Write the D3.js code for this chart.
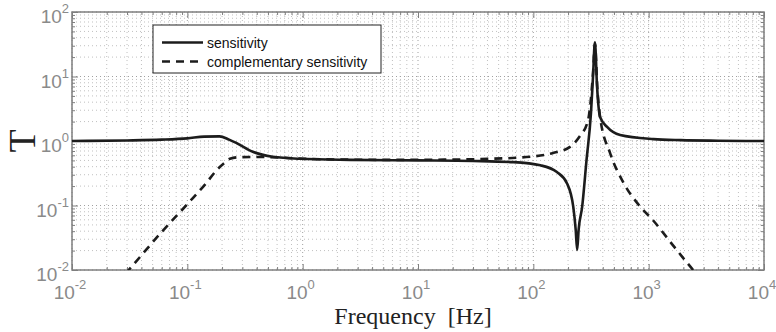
<!DOCTYPE html>
<html>
<head>
<meta charset="utf-8">
<script src="https://cdn.jsdelivr.net/npm/d3@7"></script>
<style>
  body { margin: 0; background: #fff; }
  svg { display: block; }
</style>
</head>
<body>
<svg id="chart"></svg>
<script>
// frequency [Hz] / magnitude
const sensFreq = [0.01, 0.03, 0.06, 0.1, 0.14, 0.19, 0.23, 0.27, 0.37, 0.55, 0.95, 2.6, 10, 30, 67, 115, 160, 196, 222, 233, 240, 247, 265, 289, 316, 329, 342, 357, 379, 436, 566, 1100, 1900, 4000, 10000];
const sensVals = [1.0, 1.02, 1.05, 1.1, 1.17, 1.18, 1.05, 0.92, 0.68, 0.57, 0.53, 0.51, 0.5, 0.49, 0.47, 0.42, 0.33, 0.22, 0.095, 0.042, 0.0205, 0.042, 0.095, 0.5, 2.7, 9.8, 34, 6.9, 2.36, 1.65, 1.24, 1.07, 1.03, 1.01, 1.0];
const compFreq = [0.02, 0.031, 0.06, 0.1, 0.145, 0.18, 0.21, 0.234, 0.28, 0.4, 0.7, 1, 5, 20, 35, 94, 148, 208, 250, 298, 330, 342, 360, 379, 463, 601, 828, 1100, 1660, 2430, 3500];
const compVals = [0.0042, 0.01, 0.039, 0.105, 0.22, 0.355, 0.46, 0.53, 0.56, 0.565, 0.55, 0.53, 0.51, 0.515, 0.525, 0.57, 0.65, 0.81, 1.15, 2.1, 12, 32, 6, 2.36, 0.65, 0.23, 0.1, 0.058, 0.023, 0.01, 0.0048];
const xDecades = [-2, -1, 0, 1, 2, 3, 4];
const yDecades = [-2, -1, 0, 1, 2];
const legendLabels = ["sensitivity", "complementary sensitivity"];

const width = 776, height = 332;
const margin = {left: 72, right: 12, top: 12, bottom: 62};
const svg = d3.select("#chart").attr("width", width).attr("height", height);

const x = d3.scaleLog().domain([1e-2, 1e4]).range([margin.left, width - margin.right]);
const y = d3.scaleLog().domain([1e-2, 1e2]).range([height - margin.bottom, margin.top]);
const x0 = margin.left, x1 = width - margin.right, y0 = height - margin.bottom, y1 = margin.top;

// minor values per decade
const minorX = [], minorY = [];
for (let d = -2; d < 4; d++) for (let k = 2; k <= 9; k++) minorX.push(k * Math.pow(10, d));
for (let d = -2; d < 2; d++) for (let k = 2; k <= 9; k++) minorY.push(k * Math.pow(10, d));
const majorX = xDecades.map(d => Math.pow(10, d));
const majorY = yDecades.map(d => Math.pow(10, d));

// grid
const grid = svg.append("g");
grid.selectAll(".gmx").data(minorX).join("line")
    .attr("x1", d => x(d)).attr("x2", d => x(d)).attr("y1", y1).attr("y2", y0)
    .attr("stroke", "#c0c0c0").attr("stroke-width", 1).attr("stroke-dasharray", "1,3");
grid.selectAll(".gmy").data(minorY).join("line")
    .attr("y1", d => y(d)).attr("y2", d => y(d)).attr("x1", x0).attr("x2", x1)
    .attr("stroke", "#c0c0c0").attr("stroke-width", 1).attr("stroke-dasharray", "1,3");
grid.selectAll(".gMx").data(majorX).join("line")
    .attr("x1", d => x(d)).attr("x2", d => x(d)).attr("y1", y1).attr("y2", y0)
    .attr("stroke", "#a0a0a0").attr("stroke-width", 1).attr("stroke-dasharray", "1,3");
grid.selectAll(".gMy").data(majorY).join("line")
    .attr("y1", d => y(d)).attr("y2", d => y(d)).attr("x1", x0).attr("x2", x1)
    .attr("stroke", "#a0a0a0").attr("stroke-width", 1).attr("stroke-dasharray", "1,3");

// axes, ticks pointing inward on all four sides
const axisColor = "#7f7f7f";
function styleAxis(g) {
    g.select(".domain").remove();
    g.selectAll(".tick line").attr("stroke", axisColor);
    g.selectAll(".tick text").remove();
}
svg.append("g").attr("transform", `translate(0,${y0})`)
    .call(d3.axisBottom(x).tickValues(majorX).tickSize(-6)).call(styleAxis);
svg.append("g").attr("transform", `translate(0,${y0})`)
    .call(d3.axisBottom(x).tickValues(minorX).tickSize(-3)).call(styleAxis);
svg.append("g").attr("transform", `translate(0,${y1})`)
    .call(d3.axisTop(x).tickValues(majorX).tickSize(-6)).call(styleAxis);
svg.append("g").attr("transform", `translate(0,${y1})`)
    .call(d3.axisTop(x).tickValues(minorX).tickSize(-3)).call(styleAxis);
svg.append("g").attr("transform", `translate(${x0},0)`)
    .call(d3.axisLeft(y).tickValues(majorY).tickSize(-6)).call(styleAxis);
svg.append("g").attr("transform", `translate(${x0},0)`)
    .call(d3.axisLeft(y).tickValues(minorY).tickSize(-3)).call(styleAxis);
svg.append("g").attr("transform", `translate(${x1},0)`)
    .call(d3.axisRight(y).tickValues(majorY).tickSize(-6)).call(styleAxis);
svg.append("g").attr("transform", `translate(${x1},0)`)
    .call(d3.axisRight(y).tickValues(minorY).tickSize(-3)).call(styleAxis);

svg.append("rect").attr("x", x0).attr("y", y1).attr("width", x1 - x0).attr("height", y0 - y1)
    .attr("fill", "none").attr("stroke", axisColor).attr("stroke-width", 1.5);

// tick labels 10^n
const tickFont = "'Liberation Sans', Arial, sans-serif";
function powLabel(sel) {
    sel.append("tspan").text("10");
    sel.append("tspan").attr("font-size", 13).attr("dy", -10).text(d => d);
}
svg.append("g").selectAll("text").data(xDecades).join("text")
    .attr("x", d => x(Math.pow(10, d)) - 2).attr("y", y0 + 29)
    .attr("text-anchor", "middle").attr("font-family", tickFont).attr("font-size", 19)
    .attr("fill", "#8a8a8a").call(powLabel);
svg.append("g").selectAll("text").data(yDecades).join("text")
    .attr("x", x0 - 3).attr("y", d => y(Math.pow(10, d)) + 11)
    .attr("text-anchor", "end").attr("font-family", tickFont).attr("font-size", 19)
    .attr("fill", "#8a8a8a").call(powLabel);

// axis titles
svg.append("text").attr("x", 413).attr("y", 324).attr("text-anchor", "middle")
    .attr("font-family", "'Liberation Serif', 'DejaVu Serif', serif").attr("font-size", 24)
    .attr("fill", "#222").attr("xml:space", "preserve").text("Frequency  [Hz]");
svg.append("text").attr("transform", `translate(35,${y(1)}) rotate(-90)`).attr("text-anchor", "middle")
    .attr("font-family", "'Liberation Serif', 'DejaVu Serif', serif").attr("font-size", 38)
    .attr("fill", "#222").text("T");

// curves
svg.append("clipPath").attr("id", "clip").append("rect")
    .attr("x", x0).attr("y", y1).attr("width", x1 - x0).attr("height", y0 - y1);
const line = d3.line().x(d => x(d[0])).y(d => y(d[1])).curve(d3.curveMonotoneX);
const plot = svg.append("g").attr("clip-path", "url(#clip)");
plot.append("path").datum(d3.zip(compFreq, compVals)).attr("d", line)
    .attr("fill", "none").attr("stroke", "#1c1c1c").attr("stroke-width", 2.6)
    .attr("stroke-dasharray", "8,6");
plot.append("path").datum(d3.zip(sensFreq, sensVals)).attr("d", line)
    .attr("fill", "none").attr("stroke", "#1c1c1c").attr("stroke-width", 2.6)
    .attr("stroke-linejoin", "round");

// legend
const leg = svg.append("g").attr("transform", "translate(153,25)");
leg.append("rect").attr("width", 228).attr("height", 48).attr("fill", "#fff").attr("stroke", "#222").attr("stroke-width", 1);
legendLabels.forEach((name, i) => {
    const ly = 17.5 + i * 19;
    leg.append("line").attr("x1", 9).attr("x2", 50).attr("y1", ly).attr("y2", ly)
        .attr("stroke", "#1c1c1c").attr("stroke-width", 2.6)
        .attr("stroke-dasharray", i === 1 ? "8,6" : null);
    leg.append("text").attr("x", 54).attr("y", ly + 5).attr("font-family", tickFont)
        .attr("font-size", 14).attr("fill", "#111").text(name);
});
</script>
</body>
</html>
